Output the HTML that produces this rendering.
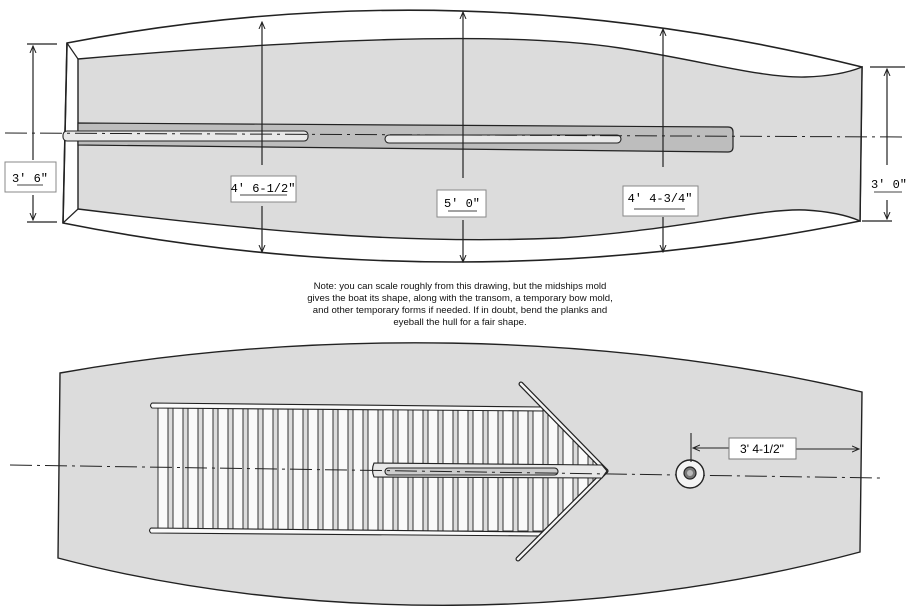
<!DOCTYPE html>
<html><head><meta charset="utf-8"><style>
html,body{margin:0;padding:0;background:#fff;}
svg{display:block;}
text{font-family:"Liberation Mono",monospace;}
</style></head><body>
<svg width="913" height="610" viewBox="0 0 913 610" xmlns="http://www.w3.org/2000/svg">
<defs>
<marker id="ah" markerWidth="8" markerHeight="8" refX="7" refY="4" orient="auto" markerUnits="userSpaceOnUse">
<path d="M0,1 L7,4 L0,7" fill="none" stroke="#222" stroke-width="1"/>
</marker>
<clipPath id="deck"><polygon points="155,406 543,409 605,471 543,533 155,531"/></clipPath>
</defs>

<!-- TOP VIEW -->
<path d="M67,43 Q461,-33 862,67 L860,221 Q460,302 63,223 Z" fill="#fff" stroke="#222" stroke-width="1.6"/>
<path d="M78,59 C300,40 500,30 620,48 C700,60 760,78 805,77 Q840,76 862,67 L860,221 Q840,212 805,210 C760,208 680,230 560,238 C400,245 250,230 78,209 Z" fill="#dcdcdc" stroke="#222" stroke-width="1.4"/>
<line x1="67" y1="43" x2="78" y2="59" stroke="#222" stroke-width="1.2"/>
<line x1="63" y1="223" x2="78" y2="209" stroke="#222" stroke-width="1.2"/>
<line x1="67" y1="43" x2="63" y2="223" stroke="#222" stroke-width="1.4"/>
<!-- keel band -->
<path d="M78,123 L728,127 Q733,127 733,132 L733,147 Q733,152 728,152 L78,145 Z" fill="#bdbdbd" stroke="#222" stroke-width="1.2"/>
<rect x="63" y="131" width="245" height="10" rx="4" fill="#e8e8e8" stroke="#222" stroke-width="1.1"/>
<rect x="385" y="135" width="236" height="8" rx="4" fill="#e8e8e8" stroke="#222" stroke-width="1.1"/>
<!-- centerline -->
<line x1="5" y1="133" x2="905" y2="137" stroke="#222" stroke-width="1" stroke-dasharray="22,5,3,5"/>
<!-- dims -->
<line x1="27" y1="44" x2="57" y2="44" stroke="#222" stroke-width="1.2"/>
<line x1="27" y1="222" x2="57" y2="222" stroke="#222" stroke-width="1.2"/>
<line x1="33" y1="160" x2="33" y2="46" stroke="#222" stroke-width="1.2" marker-end="url(#ah)"/>
<line x1="33" y1="195" x2="33" y2="220" stroke="#222" stroke-width="1.2" marker-end="url(#ah)"/>
<rect x="5" y="162" width="51" height="30" fill="#fff" stroke="#888"/>
<text x="30" y="182" font-size="12" text-anchor="middle">3' 6"</text>
<line x1="17" y1="185" x2="43" y2="185" stroke="#444"/>

<line x1="262" y1="165" x2="262" y2="22" stroke="#222" stroke-width="1.2" marker-end="url(#ah)"/>
<line x1="262" y1="206" x2="262" y2="252" stroke="#222" stroke-width="1.2" marker-end="url(#ah)"/>
<rect x="231" y="176" width="65" height="26" fill="#fff" stroke="#888"/>
<text x="263" y="192" font-size="12" text-anchor="middle">4' 6-1/2"</text>
<line x1="240" y1="195" x2="287" y2="195" stroke="#444"/>

<line x1="463" y1="178" x2="463" y2="12" stroke="#222" stroke-width="1.2" marker-end="url(#ah)"/>
<line x1="463" y1="220" x2="463" y2="262" stroke="#222" stroke-width="1.2" marker-end="url(#ah)"/>
<rect x="437" y="190" width="49" height="27" fill="#fff" stroke="#888"/>
<text x="462" y="207" font-size="12" text-anchor="middle">5' 0"</text>
<line x1="448" y1="211" x2="477" y2="211" stroke="#444"/>

<line x1="663" y1="167" x2="663" y2="29" stroke="#222" stroke-width="1.2" marker-end="url(#ah)"/>
<line x1="663" y1="217" x2="663" y2="252" stroke="#222" stroke-width="1.2" marker-end="url(#ah)"/>
<rect x="623" y="186" width="75" height="30" fill="#fff" stroke="#888"/>
<text x="660" y="202" font-size="12" text-anchor="middle">4' 4-3/4"</text>
<line x1="634" y1="209" x2="685" y2="209" stroke="#444"/>

<line x1="870" y1="67" x2="905" y2="67" stroke="#222" stroke-width="1.2"/>
<line x1="862" y1="221" x2="892" y2="221" stroke="#222" stroke-width="1.2"/>
<line x1="887" y1="165" x2="887" y2="69" stroke="#222" stroke-width="1.2" marker-end="url(#ah)"/>
<line x1="887" y1="200" x2="887" y2="219" stroke="#222" stroke-width="1.2" marker-end="url(#ah)"/>
<text x="889" y="188" font-size="12" text-anchor="middle">3' 0"</text>
<line x1="874" y1="192" x2="902" y2="192" stroke="#444"/>

<!-- NOTE -->
<g font-size="9.6" text-anchor="middle" fill="#111">
<text x="460" y="289" style="font-family:'Liberation Sans',sans-serif">Note: you can scale roughly from this drawing, but the midships mold</text>
<text x="460" y="301" style="font-family:'Liberation Sans',sans-serif">gives the boat its shape, along with the transom, a temporary bow mold,</text>
<text x="460" y="313" style="font-family:'Liberation Sans',sans-serif">and other temporary forms if needed. If in doubt, bend the planks and</text>
<text x="460" y="325" style="font-family:'Liberation Sans',sans-serif">eyeball the hull for a fair shape.</text>
</g>

<!-- BOTTOM VIEW -->
<path d="M60,373 C300,330 600,330 862,392 L860,552 C600,622 300,622 58,558 Z" fill="#dcdcdc" stroke="#222" stroke-width="1.4"/>
<g clip-path="url(#deck)">
<rect x="150" y="405" width="460" height="128" fill="#dcdcdc"/>
<g fill="#fafafa" stroke="#333" stroke-width="1">
<rect x="158" y="407" width="10" height="124"/><rect x="173" y="407" width="10" height="124"/><rect x="188" y="407" width="10" height="124"/><rect x="203" y="407" width="10" height="124"/><rect x="218" y="407" width="10" height="124"/><rect x="233" y="407" width="10" height="124"/><rect x="248" y="407" width="10" height="124"/><rect x="263" y="407" width="10" height="124"/><rect x="278" y="407" width="10" height="124"/><rect x="293" y="407" width="10" height="124"/><rect x="308" y="407" width="10" height="124"/><rect x="323" y="407" width="10" height="124"/><rect x="338" y="407" width="10" height="124"/><rect x="353" y="407" width="10" height="124"/><rect x="368" y="407" width="10" height="124"/><rect x="383" y="407" width="10" height="124"/><rect x="398" y="407" width="10" height="124"/><rect x="413" y="407" width="10" height="124"/><rect x="428" y="407" width="10" height="124"/><rect x="443" y="407" width="10" height="124"/><rect x="458" y="407" width="10" height="124"/><rect x="473" y="407" width="10" height="124"/><rect x="488" y="407" width="10" height="124"/><rect x="503" y="407" width="10" height="124"/><rect x="518" y="407" width="10" height="124"/><rect x="533" y="407" width="10" height="124"/><rect x="548" y="407" width="10" height="124"/><rect x="563" y="407" width="10" height="124"/><rect x="578" y="407" width="10" height="124"/><rect x="593" y="407" width="10" height="124"/>
</g>
</g>
<!-- rails -->
<path d="M152,403 L543,407 L543,411 L152,408 Q149,405.5 152,403 Z" fill="#fafafa" stroke="#222" stroke-width="1.1"/>
<path d="M151,528 L543,532 L543,536 L151,533 Q148,530.5 151,528 Z" fill="#fafafa" stroke="#222" stroke-width="1.1"/>
<!-- arrow frame -->
<line x1="521" y1="384" x2="606" y2="471" stroke="#222" stroke-width="5" stroke-linecap="round"/>
<line x1="521" y1="384" x2="606" y2="471" stroke="#f4f4f4" stroke-width="2.6" stroke-linecap="round"/>
<line x1="606" y1="471" x2="518" y2="559" stroke="#222" stroke-width="5" stroke-linecap="round"/>
<line x1="606" y1="471" x2="518" y2="559" stroke="#f4f4f4" stroke-width="2.6" stroke-linecap="round"/>
<!-- keel -->
<path d="M374,463 L602,465 L607,471 L602,478 L374,477 Q371,470 374,463 Z" fill="#e8e8e8" stroke="#222" stroke-width="1.1"/>
<rect x="385" y="468" width="173" height="7" rx="3.5" fill="#ccc" stroke="#222" stroke-width="1.1"/>
<!-- centerline -->
<line x1="10" y1="465" x2="880" y2="478" stroke="#222" stroke-width="1" stroke-dasharray="22,5,3,5"/>
<!-- drain -->
<circle cx="690" cy="474" r="14" fill="#f4f4f4" stroke="#222" stroke-width="1.4"/>
<circle cx="690" cy="473" r="6" fill="#777" stroke="#222" stroke-width="1.2"/>
<circle cx="690" cy="473" r="3" fill="#bbb"/>
<!-- dim -->
<line x1="691" y1="433" x2="691" y2="462" stroke="#222" stroke-width="1.1"/>
<line x1="729" y1="448" x2="693" y2="448" stroke="#222" stroke-width="1.1" marker-end="url(#ah)"/>
<line x1="796" y1="449" x2="859" y2="449" stroke="#222" stroke-width="1.1" marker-end="url(#ah)"/>
<rect x="729" y="438" width="67" height="21" fill="#fff" stroke="#777"/>
<text x="762" y="453" font-size="12" text-anchor="middle" style="font-family:'Liberation Sans',sans-serif">3' 4-1/2"</text>
</svg>
</body></html>
